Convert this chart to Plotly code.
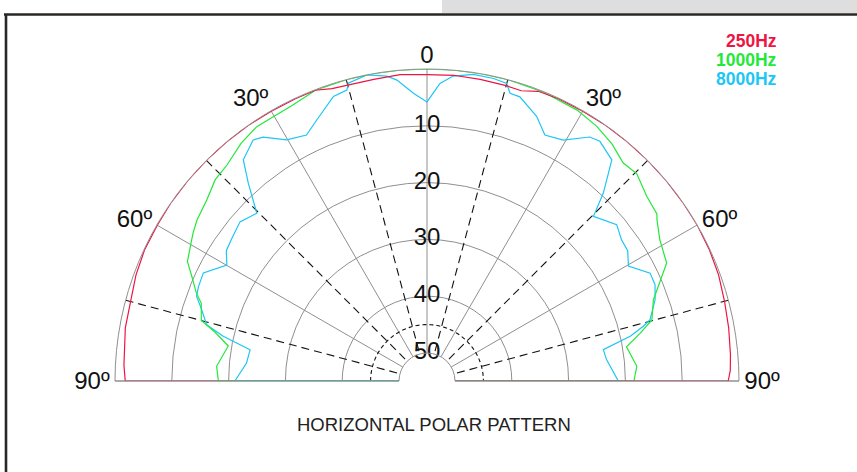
import plotly.graph_objects as go

# ---- data (attenuation in dB, angle in degrees, 0 = on-axis) ----
ang_250 = [-90, -87, -80, -75, -70, -65, -60, -55, -50, -45, -40, -35, -30, -25, -21, -18, -15, -10, -5, 0,
           5, 10, 15, 18, 21, 25, 30, 35, 40, 45, 50, 55, 60, 65, 70, 75, 80, 85, 88, 90]
db_250 = [1.8, 1.5, 1.0, 0.9, 0.4, 0.1, 0.1, 0.0, 0.0, 0.0, 0.0, 0.0, 0.1, 0.1, 0.1, 0.8, 1.0, 1.0, 0.8, 1.0,
          0.9, 1.0, 1.1, 1.2, 0.3, 0.1, 0.1, 0.0, 0.0, 0.0, 0.0, 0.0, 0.0, 0.1, 0.3, 0.7, 1.0, 1.3, 1.5, 1.9]

ang_1000 = [-90, -86, -80, -77, -75, -71, -69, -66, -63.5, -59, -57.7, -55, -50.6, -46.5, -42.8, -38, -33.8,
            -30, -26, -21, -15, -10, -5, 0, 5, 10, 15, 22, 29, 33.7, 38, 42, 45.3, 50, 54, 55, 58.8, 63.8,
            70.3, 74.8, 77.4, 80.3, 86, 90]
db_1000 = [18.2, 17.8, 19.4, 16.6, 13.8, 12.9, 11.4, 9.6, 7.8, 6.6, 6.2, 5.5, 4.75, 3.5, 3.1, 1.8, 1.05,
           1.1, 0.9, 0.1, 0.0, 0.0, 0.0, 0.0, 0.0, 0.0, 0.0, 0.1, 0.4, 1.05, 2.0, 3.3, 3.0, 4.4, 4.9, 5.5, 7.0, 7.9,
           12.6, 13.9, 16.5, 19.3, 17.9, 18.5]

ang_8000 = [-90, -84.3, -80, -77.6, -75.7, -72.4, -69.8, -67.5, -64.2, -59.9, -57, -54, -49.6, -45.4, -42.1,
            -39.7, -35.8, -33.9, -30.2, -26.1, -22.9, -18.2, -15.4, -14.8, -11.1, -7.5, -5.7, -2.7, 0,
            2.5, 4.9, 8.6, 12.4, 15, 16.1, 18.1, 22.5, 25.6, 29.5, 33.7, 35.8, 39.9, 43.2, 45.3, 50.5, 54, 57,
            60.3, 64.2, 67.1, 70.4, 74.6, 75.8, 77.6, 79.9, 83.2, 90]
db_8000 = [21.1, 23.0, 23.3, 18.2, 14.9, 13.3, 11.7, 11.4, 11.2, 14.2, 12.8, 12.4, 11.7, 12.85, 8.0,
           4.3, 2.6, 3.2, 5.8, 6.7, 5.05, 2.2, 1.8, 0.7, 0.0, 0.8, 1.7, 4.2, 5.8,
           2.5, 1.05, 0.35, 0.4, 0.7, 2.2, 2.3, 4.5, 6.9, 6.2, 3.3, 2.9, 4.2, 9.6, 13.7, 11.65, 12.6, 12.8,
           14.1, 11.3, 11.35, 12.3, 14.2, 15.65, 18.3, 23.4, 23.1, 21.25]

series_names = ["250Hz", "1000Hz", "8000Hz"]
series_colors = ["#ee1444", "#22e83a", "#1cc6f5"]

radial_ticks = [0, 10, 20, 30, 40, 50]
angle_ticks = [-90, -60, -30, 0, 30, 60, 90]
angle_labels = ["90º", "60º", "30º", "", "30º", "60º", "90º"]
dashed_angles = [-75, -45, -15, 15, 45, 75]
dashed_ring_db = 45
title_text = "HORIZONTAL POLAR PATTERN"

FONT = "Liberation Sans, Arial, sans-serif"
GRID = "#8f8f8f"

fig = go.Figure()

# dashed radial guide lines
for a in dashed_angles:
    fig.add_trace(go.Scatterpolar(r=[0, 50], theta=[a, a], mode="lines",
                                  line=dict(color="#111111", width=1.1, dash="8px,5px"),
                                  hoverinfo="skip"))
# dashed ring
ring_theta = [t for t in range(-90, 91, 2)]
fig.add_trace(go.Scatterpolar(r=[dashed_ring_db] * len(ring_theta), theta=ring_theta, mode="lines",
                              line=dict(color="#111111", width=1.1, dash="4px,3px"),
                              hoverinfo="skip"))

# curves (closed to the centre along the 90º baselines)
curves = [(ang_8000, db_8000, series_colors[2]),
          (ang_1000, db_1000, series_colors[1]),
          (ang_250, db_250, series_colors[0])]
for ang, db, col in curves:
    fig.add_trace(go.Scatterpolar(r=[50] + db + [50], theta=[ang[0]] + ang + [ang[-1]],
                                  mode="lines", line=dict(color=col, width=1.2),
                                  hoverinfo="skip"))
# left baselines of green and cyan sit on top
for ang, db, col in [(ang_1000, db_1000, series_colors[1]), (ang_8000, db_8000, series_colors[2])]:
    fig.add_trace(go.Scatterpolar(r=[db[0], 50], theta=[ang[0], ang[0]], mode="lines",
                                  line=dict(color=col, width=1.2), hoverinfo="skip"))

# radial labels on the 0º axis
fig.add_trace(go.Scatterpolar(r=radial_ticks[:1], theta=[0], mode="text",
                              text=[str(v) for v in radial_ticks[:1]], textposition="top center",
                              textfont=dict(size=24, color="#111111", family=FONT), hoverinfo="skip"))
fig.add_trace(go.Scatterpolar(r=radial_ticks[1:], theta=[0] * 5, mode="text",
                              text=[str(v) for v in radial_ticks[1:]], textposition="middle center",
                              textfont=dict(size=24, color="#111111", family=FONT), hoverinfo="skip"))

cx, cy, R = 427, 381, 312
W, H = 857, 472
fig.update_layout(
    width=W, height=H, margin=dict(l=0, r=0, t=0, b=0),
    paper_bgcolor="white", showlegend=False,
    font=dict(family=FONT, color="#111111"),
    polar=dict(
        domain=dict(x=[(cx - R) / W, (cx + R) / W], y=[(H - cy) / H, (H - cy + R) / H]),
        sector=[0, 180], hole=28 / 312, bgcolor="white",
        radialaxis=dict(range=[50, 0], tickvals=radial_ticks, showticklabels=False, ticks="",
                        showline=False, gridcolor=GRID, gridwidth=1),
        angularaxis=dict(rotation=90, direction="clockwise", tickvals=angle_ticks, ticktext=angle_labels,
                         ticks="", showline=True, linecolor=GRID, linewidth=1, gridcolor=GRID, gridwidth=1,
                         tickfont=dict(size=24, color="#111111", family=FONT)),
    ),
    shapes=[
        dict(type="rect", xref="paper", yref="paper", x0=442 / W, x1=1, y0=(H - 13) / H, y1=1,
             fillcolor="#dedede", line=dict(width=0), layer="below"),
        dict(type="line", xref="paper", yref="paper", x0=4 / W, x1=1, y0=(H - 14.5) / H, y1=(H - 14.5) / H,
             line=dict(color="#2a2725", width=2.6)),
        dict(type="line", xref="paper", yref="paper", x0=6 / W, x1=6 / W, y0=0, y1=(H - 14.5) / H,
             line=dict(color="#2a2725", width=2.6)),
    ],
    annotations=[
        dict(x=434 / W, y=(H - 424) / H, xref="paper", yref="paper", text=title_text, showarrow=False,
             xanchor="center", yanchor="middle",
             font=dict(size=18.5, color="#222222", family=FONT)),
    ] + [
        dict(x=779 / W, y=(H - yy) / H, xref="paper", yref="paper", xanchor="right", yanchor="middle",
             text="<b>%s</b>" % n, showarrow=False, font=dict(size=17.5, color=c, family=FONT))
        for n, c, yy in zip(series_names, series_colors, [41, 60, 79])
    ],
)

fig.write_html("out.html", config={"displayModeBar": False},
               post_script="document.body.style.margin='0px';document.body.style.overflow='hidden';")
